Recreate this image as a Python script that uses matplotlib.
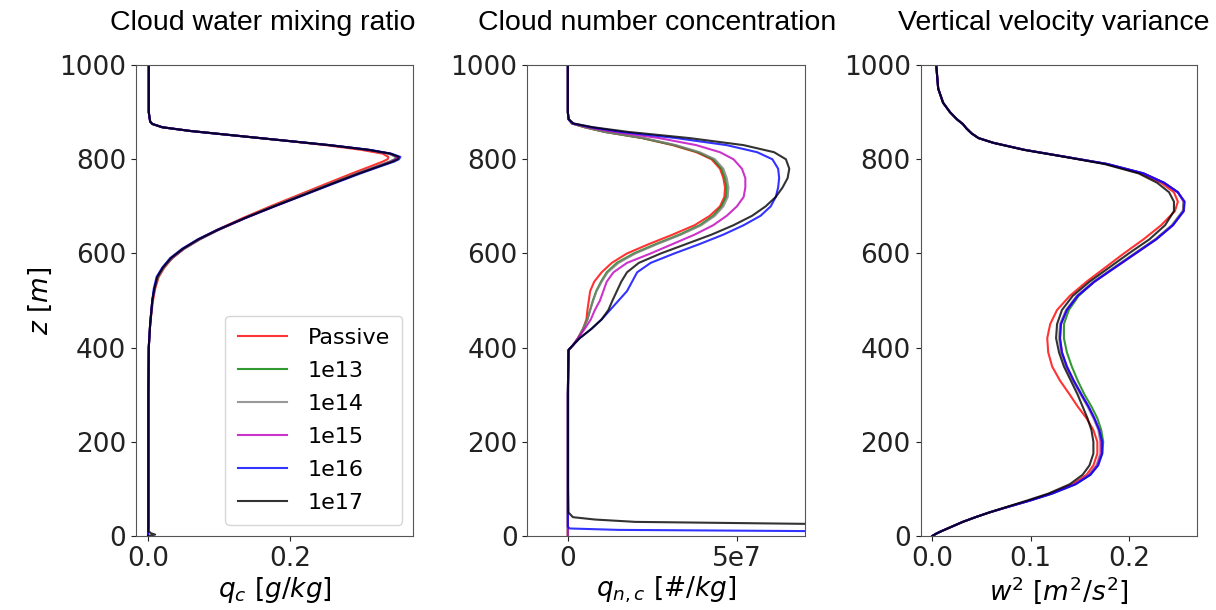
import numpy as np
import matplotlib
matplotlib.use("Agg")
import matplotlib.pyplot as plt

labels = ["Passive", "1e13", "1e14", "1e15", "1e16", "1e17"]
colors = ["r", "g", "grey", "m", "b", "k"]

# cloud water mixing ratio [g/kg]
z_qc = [0, 3, 6, 10, 20, 100, 200, 300, 400, 450, 500, 525, 550, 570, 590, 610, 630, 650, 675,
        700, 725, 750, 770, 785, 795, 800, 805, 812, 820, 830, 840, 850, 860, 868, 875, 880,
        900, 1000]
qc_passive = [0.0, 0.0, 0.0, 0.0, 0.0005, 0.0005, 0.0005, 0.0005, 0.001, 0.003, 0.007, 0.010,
              0.015, 0.023, 0.034, 0.050, 0.071, 0.097, 0.133, 0.172, 0.213, 0.254, 0.287, 0.313,
              0.330, 0.337, 0.338, 0.33, 0.30, 0.25, 0.19, 0.125, 0.06, 0.02, 0.006, 0.003,
              0.001, 0.001]
qc_1e13 = [0.0, 0.0, 0.0, 0.0, 0.0005, 0.0005, 0.0005, 0.0005, 0.001, 0.003, 0.006, 0.009,
           0.014, 0.022, 0.034, 0.051, 0.073, 0.099, 0.136, 0.176, 0.218, 0.26, 0.294, 0.322,
           0.34, 0.347, 0.349, 0.339, 0.31, 0.255, 0.19, 0.125, 0.06, 0.02, 0.006, 0.003,
           0.001, 0.001]
qc_1e14 = [0.0, 0.0, 0.0, 0.0, 0.0005, 0.0005, 0.0005, 0.0005, 0.001, 0.003, 0.006, 0.009,
           0.014, 0.022, 0.034, 0.051, 0.073, 0.099, 0.136, 0.176, 0.218, 0.26, 0.294, 0.322,
           0.34, 0.347, 0.349, 0.339, 0.31, 0.255, 0.19, 0.125, 0.06, 0.02, 0.006, 0.003,
           0.001, 0.001]
qc_1e15 = [0.0, 0.0, 0.0, 0.0, 0.0005, 0.0005, 0.0005, 0.0005, 0.001, 0.003, 0.006, 0.009,
           0.013, 0.021, 0.033, 0.050, 0.072, 0.099, 0.137, 0.178, 0.22, 0.262, 0.296, 0.324,
           0.342, 0.349, 0.351, 0.340, 0.31, 0.255, 0.19, 0.125, 0.06, 0.02, 0.006, 0.003,
           0.001, 0.001]
qc_1e16 = [0.0, 0.0, 0.0, 0.0, 0.0005, 0.0005, 0.0005, 0.0005, 0.001, 0.003, 0.006, 0.008,
           0.012, 0.020, 0.031, 0.048, 0.070, 0.097, 0.136, 0.178, 0.221, 0.264, 0.299, 0.327,
           0.346, 0.353, 0.355, 0.342, 0.312, 0.256, 0.19, 0.125, 0.06, 0.02, 0.006, 0.003,
           0.001, 0.001]
qc_1e17 = [0.0, 0.010, 0.004, 0.001, 0.0005, 0.0005, 0.0005, 0.0005, 0.001, 0.003, 0.006, 0.009,
           0.013, 0.021, 0.032, 0.049, 0.071, 0.098, 0.136, 0.177, 0.22, 0.262, 0.297, 0.325,
           0.344, 0.351, 0.353, 0.341, 0.31, 0.255, 0.19, 0.125, 0.06, 0.02, 0.006, 0.003,
           0.001, 0.001]

# cloud number concentration [1e7 #/kg]
z_qn = [0, 5, 10, 13, 16, 20, 25, 30, 35, 40, 50, 100, 200, 300, 395, 405, 420, 440, 460,
        480, 500, 520, 540, 560, 580, 600, 620, 640, 660, 680, 700, 720, 740, 760, 780, 800,
        815, 830, 845, 858, 868, 876, 885, 900, 1000]
qn_passive = [0.0, 0.0, 0.0, 0.0, 0.0, 0.0, 0.0, 0.0, 0.0, 0.0, 0.0, 0.0, 0.0, 0.0, 0.02, 0.15,
              0.3, 0.45, 0.55, 0.58, 0.62, 0.66, 0.78, 1.0, 1.3, 1.75, 2.4, 3.1, 3.75, 4.2,
              4.5, 4.63, 4.65, 4.6, 4.5, 4.25, 3.8, 3.1, 2.2, 1.1, 0.5, 0.12, 0.02, 0.0, 0.0]
qn_1e13 = [0.0, 0.0, 0.0, 0.0, 0.0, 0.0, 0.0, 0.0, 0.0, 0.0, 0.0, 0.0, 0.0, 0.0, 0.02, 0.15,
           0.3, 0.45, 0.58, 0.66, 0.74, 0.84, 0.98, 1.15, 1.45, 1.95, 2.6, 3.3, 3.9, 4.3,
           4.55, 4.68, 4.7, 4.65, 4.55, 4.3, 3.85, 3.15, 2.2, 1.1, 0.5, 0.12, 0.02, 0.0, 0.0]
qn_1e14 = [0.0, 0.0, 0.0, 0.0, 0.0, 0.0, 0.0, 0.0, 0.0, 0.0, 0.0, 0.0, 0.0, 0.0, 0.02, 0.15,
           0.3, 0.45, 0.58, 0.66, 0.75, 0.85, 1.0, 1.18, 1.5, 2.0, 2.65, 3.35, 3.95, 4.35,
           4.6, 4.73, 4.75, 4.7, 4.6, 4.35, 3.9, 3.2, 2.25, 1.1, 0.5, 0.12, 0.02, 0.0, 0.0]
qn_1e15 = [0.0, 0.0, 0.0, 0.0, 0.0, 0.0, 0.0, 0.0, 0.0, 0.0, 0.0, 0.0, 0.0, 0.0, 0.02, 0.15,
           0.3, 0.5, 0.68, 0.8, 0.95, 1.05, 1.15, 1.35, 1.75, 2.45, 3.1, 3.75, 4.3, 4.7,
           5.0, 5.2, 5.25, 5.25, 5.15, 4.9, 4.5, 3.8, 2.7, 1.4, 0.6, 0.14, 0.02, 0.0, 0.0]
qn_1e16 = [15.0, 15.0, 8.0, 1.5, 0.05, 0.0, 0.0, 0.0, 0.0, 0.0, 0.0, 0.0, 0.0, 0.0, 0.02, 0.15,
           0.35, 0.7, 1.0, 1.25, 1.5, 1.75, 1.9, 2.05, 2.45, 3.15, 3.9, 4.6, 5.2, 5.7,
           6.0, 6.15, 6.22, 6.25, 6.22, 6.05, 5.6, 4.7, 3.2, 1.6, 0.7, 0.15, 0.02, 0.0, 0.0]
qn_1e17 = [20.0, 20.0, 20.0, 20.0, 18.0, 14.0, 8.0, 2.0, 0.8, 0.15, 0.02, 0.01, 0.01, 0.01, 0.02,
           0.15, 0.35, 0.7, 1.0, 1.2, 1.32, 1.45, 1.58, 1.75, 2.1, 2.75, 3.5, 4.25, 4.9, 5.45,
           5.85, 6.15, 6.35, 6.5, 6.55, 6.45, 6.1, 5.2, 3.6, 1.8, 0.75, 0.17, 0.03, 0.0, 0.0]

# vertical velocity variance [m2/s2]
z_w2 = [0, 5, 10, 20, 30, 40, 50, 60, 75, 90, 110, 130, 150, 175, 200, 225, 250, 275, 300,
        330, 360, 390, 420, 450, 480, 510, 540, 570, 600, 630, 660, 690, 710, 730, 750, 770,
        790, 805, 820, 835, 845, 855, 865, 875, 885, 900, 920, 950, 1000]
w2_passive = [0.0, 0.004, 0.009, 0.02, 0.031, 0.044, 0.058, 0.074, 0.098, 0.12, 0.143, 0.157,
              0.164, 0.168, 0.168, 0.164, 0.157, 0.148, 0.14, 0.13, 0.122, 0.118, 0.117, 0.12,
              0.127, 0.14, 0.157, 0.176, 0.195, 0.215, 0.233, 0.247, 0.25, 0.246, 0.233, 0.212,
              0.177, 0.136, 0.094, 0.062, 0.047, 0.04, 0.035, 0.031, 0.025, 0.018, 0.011, 0.006,
              0.004]
w2_1e13 = [0.0, 0.004, 0.009, 0.02, 0.031, 0.044, 0.058, 0.074, 0.099, 0.122, 0.146, 0.161,
           0.168, 0.173, 0.174, 0.172, 0.168, 0.162, 0.155, 0.148, 0.142, 0.137, 0.134, 0.134,
           0.139, 0.149, 0.165, 0.185, 0.206, 0.227, 0.244, 0.255, 0.256, 0.25, 0.236, 0.215,
           0.178, 0.136, 0.094, 0.062, 0.047, 0.04, 0.035, 0.031, 0.025, 0.018, 0.011, 0.006,
           0.004]
w2_1e14 = [0.0, 0.004, 0.009, 0.02, 0.031, 0.044, 0.058, 0.074, 0.099, 0.121, 0.145, 0.159,
           0.167, 0.171, 0.171, 0.169, 0.164, 0.158, 0.151, 0.143, 0.136, 0.131, 0.129, 0.13,
           0.136, 0.147, 0.164, 0.185, 0.206, 0.227, 0.244, 0.255, 0.256, 0.25, 0.236, 0.215,
           0.178, 0.136, 0.094, 0.062, 0.047, 0.04, 0.035, 0.031, 0.025, 0.018, 0.011, 0.006,
           0.004]
w2_1e15 = [0.0, 0.004, 0.009, 0.02, 0.031, 0.044, 0.058, 0.074, 0.099, 0.121, 0.145, 0.16,
           0.168, 0.172, 0.172, 0.17, 0.165, 0.159, 0.152, 0.144, 0.137, 0.132, 0.13, 0.131,
           0.137, 0.148, 0.165, 0.186, 0.207, 0.228, 0.245, 0.256, 0.256, 0.25, 0.236, 0.215,
           0.178, 0.136, 0.094, 0.062, 0.047, 0.04, 0.035, 0.031, 0.025, 0.018, 0.011, 0.006,
           0.004]
w2_1e16 = [0.0, 0.004, 0.009, 0.02, 0.031, 0.044, 0.058, 0.074, 0.099, 0.122, 0.146, 0.161,
           0.169, 0.173, 0.173, 0.17, 0.165, 0.159, 0.152, 0.144, 0.137, 0.132, 0.13, 0.131,
           0.137, 0.148, 0.165, 0.186, 0.207, 0.228, 0.245, 0.256, 0.257, 0.25, 0.236, 0.215,
           0.178, 0.136, 0.094, 0.062, 0.047, 0.04, 0.035, 0.031, 0.025, 0.018, 0.011, 0.006,
           0.004]
w2_1e17 = [0.0, 0.004, 0.009, 0.02, 0.031, 0.044, 0.058, 0.073, 0.096, 0.118, 0.14, 0.153,
           0.16, 0.164, 0.164, 0.162, 0.158, 0.153, 0.148, 0.141, 0.134, 0.129, 0.126, 0.127,
           0.132, 0.143, 0.16, 0.18, 0.2, 0.221, 0.237, 0.246, 0.246, 0.241, 0.229, 0.21,
           0.175, 0.135, 0.093, 0.062, 0.047, 0.04, 0.035, 0.031, 0.025, 0.018, 0.011, 0.006,
           0.004]

qc_all = [qc_passive, qc_1e13, qc_1e14, qc_1e15, qc_1e16, qc_1e17]
qn_all = [qn_passive, qn_1e13, qn_1e14, qn_1e15, qn_1e16, qn_1e17]
w2_all = [w2_passive, w2_1e13, w2_1e14, w2_1e15, w2_1e16, w2_1e17]

fig = plt.figure(figsize=(12.16, 6.10), dpi=100)
ax1 = fig.add_axes([0.1118, 0.1213, 0.228, 0.772])
ax2 = fig.add_axes([0.4336, 0.1213, 0.228, 0.772])
ax3 = fig.add_axes([0.757, 0.1213, 0.227, 0.772])

for i in range(6):
    ax1.plot(qc_all[i], z_qc, color=colors[i], alpha=0.8, lw=1.5, label=labels[i])
    ax2.plot(np.array(qn_all[i]) * 1e7, z_qn, color=colors[i], alpha=0.8, lw=1.5)
    ax3.plot(w2_all[i], z_w2, color=colors[i], alpha=0.8, lw=1.5)

ax1.set_xlim(-0.017, 0.373)
ax1.set_xticks([0.0, 0.2])
ax1.set_xticklabels(["0.0", "0.2"])
ax2.set_xlim(-1.2e7, 7.0e7)
ax2.set_xticks([0, 5e7])
ax2.set_xticklabels(["0", "5e7"])
ax3.set_xlim(-0.012, 0.269)
ax3.set_xticks([0.0, 0.1, 0.2])
ax3.set_xticklabels(["0.0", "0.1", "0.2"])

for ax in (ax1, ax2, ax3):
    ax.set_ylim(0, 1000)
    ax.set_yticks([0, 200, 400, 600, 800, 1000])
    ax.tick_params(labelsize=19, colors="#222222")
    for s in ax.spines.values():
        s.set_color("#555555")

ax1.set_ylabel(r"$z\ [m]$", fontsize=19)
ax1.set_xlabel(r"$q_c$ [$g/kg$]", fontsize=19, labelpad=2)
ax2.set_xlabel(r"$q_{n,c}$ [$\#/kg$]", fontsize=19, labelpad=2)
ax3.set_xlabel(r"$w^2$ [$m^2/s^2$]", fontsize=19, labelpad=2)

ax1.legend(loc="lower right", fontsize=16, labelspacing=0.58, handlelength=2.2,
           handletextpad=0.95, borderpad=0.55)

fig.text(0.2159, 0.962, "Cloud water mixing ratio", ha="center", va="center",
         fontsize=20.5, family="Liberation Sans")
fig.text(0.5407, 0.962, "Cloud number concentration", ha="center", va="center",
         fontsize=20.5, family="Liberation Sans")
fig.text(0.8664, 0.962, "Vertical velocity variance", ha="center", va="center",
         fontsize=20.5, family="Liberation Sans")

fig.savefig("out.png", dpi=100)
